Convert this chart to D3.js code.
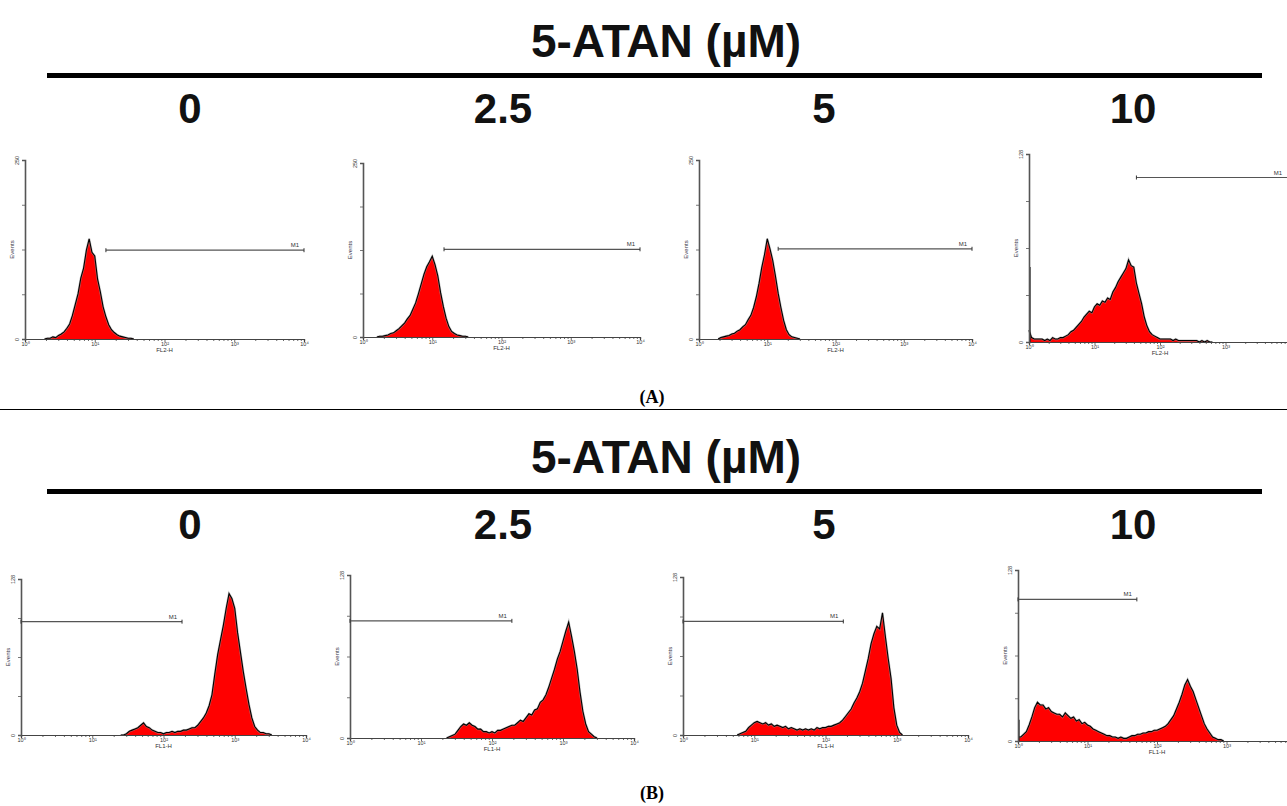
<!DOCTYPE html>
<html>
<head>
<meta charset="utf-8">
<script src="https://cdn.jsdelivr.net/npm/d3@7"></script>
<style>
body{margin:0;background:#fff;}
svg{display:block;}
</style>
</head>
<body>
<svg id="chart" width="1287" height="806"></svg>
<script>
// ---- values ----
var titleText = "5-ATAN (µM)";
var doses = ["0", "2.5", "5", "10"];
var captions = ["(A)", "(B)"];
var channelNames = ["FL2-H", "FL1-H"];
var decadeLabels = ["10⁰", "10¹", "10²", "10³", "10⁴"];
var binStep = 0.04; // decades per bin

// (A) FL2-H
var yMaxA = [250, 250, 250, 128];
var startA = [0.28, 0.20, 0.28, 0.00];
var firstChannelA = [0, 0, 0, 51];
var gateA = [[1.16, 4, 124], [1.17, 4, 126], [1.16, 4, 126], [1.64, 4, 112]];
var countsA0 = [0,1,1,3,2,5,7,10,15,21,33,48,63,85,99,124,140,121,116,84,66,45,31,20,13,9,6,4,3,2,1,1,0];
var countsA1 = [0,1,1,2,3,5,6,9,12,16,20,26,31,40,49,62,76,90,101,108,116,104,88,64,44,27,15,8,5,3,2,1,1,0];
var countsA2 = [0,2,3,4,5,7,8,11,13,17,20,27,33,44,59,78,100,118,140,126,110,88,64,44,26,13,6,3,2,1,0];
var countsA3 = [8,3,2,2,2,2,1,2,1,3,2,2,3,3,4,5,7,8,10,12,14,17,19,21,20,24,26,25,28,27,30,29,34,37,41,44,47,50,56,52,51,40,33,26,17,11,7,5,4,3,2,2,2,2,2,1,2,1,1,1,1,1,1,1,1,0,1,0,1,0,0];

// (B) FL1-H
var yMaxB = [128, 128, 128, 128];
var startB = [1.40, 1.36, 0.76, 0.00];
var firstChannelB = [0, 0, 0, 16];
var gateB = [[0, 2.26, 93], [0, 2.28, 92], [0, 2.25, 92], [0, 1.71, 106]];
var countsB0 = [0,0,1,3,4,5,6,8,10,7,6,4,3,2,2,1,2,2,3,2,3,3,4,4,5,6,6,8,11,14,18,24,33,50,66,78,90,104,116,112,104,84,68,52,38,25,14,7,4,2,2,1,1,0];
var countsB1 = [0,1,2,3,6,9,11,10,12,10,9,7,7,5,5,4,5,4,6,6,7,8,9,10,10,12,14,13,16,19,18,22,23,28,30,34,40,47,54,62,68,76,84,91,80,68,54,36,21,11,5,3,1,0];
var countsB2 = [0,1,2,3,6,8,10,11,10,9,10,8,9,7,8,7,6,7,5,6,5,4,5,4,5,4,5,4,6,5,6,6,7,7,8,9,10,12,15,18,21,26,30,35,42,52,62,74,82,88,86,99,80,62,46,22,8,2,0];
var countsB3 = [3,3,5,7,12,18,25,29,27,27,24,25,22,21,20,20,18,21,19,17,18,15,16,13,14,12,11,9,8,7,6,5,4,4,3,3,2,3,2,2,3,4,4,5,5,6,6,7,7,8,8,9,10,11,13,16,19,24,29,35,42,46,41,37,31,25,19,13,9,6,3,2,1,1,0];

// ---- page layout (pixels) ----
var W = 1287;
var frameA = [[25, 304, 160, 339], [363, 640, 163, 337], [699, 972, 160, 339], [1029, 1291, 154, 342]];
var frameB = [[21, 306, 579, 735], [350, 634, 575, 738], [683, 968, 577, 735], [1018, 1296, 570, 741]];
var doseX = [190, 503, 824, 1133];
var sectionDy = [0, 416];

var svg = d3.select("#chart");

var histPanel = function(frame, counts, start, yMax, firstCh, gate, xName){
    this.x0 = frame[0];
    this.x1 = frame[1];
    this.yTop = frame[2];
    this.yBase = frame[3];
    this.counts = counts;
    this.start = start;
    this.yMax = yMax;
    this.firstCh = firstCh;
    this.gate = gate;
    this.xName = xName;
}
histPanel.prototype.display = function(){
    var that = this;
    var x = d3.scaleLog().domain([1, 10000]).range([this.x0, this.x1]);
    var y = d3.scaleLinear().domain([0, this.yMax]).range([this.yBase, this.yTop]);
    var g = svg.append("g");

    var pts = this.counts.map(function(c, i){
        return {v: Math.pow(10, that.start + i*binStep), c: c};
    });
    var lineGen = d3.line().x(function(d){return x(d.v)}).y(function(d){return y(d.c)});

    // histogram: red fill, grey halo, black edge
    g.append("path").datum(pts)
        .attr("d", d3.area().x(function(d){return x(d.v)}).y0(this.yBase).y1(function(d){return y(d.c)}))
        .attr("fill", "#ff0000").attr("stroke", "none");
    g.append("path").datum(pts).attr("d", lineGen)
        .attr("fill", "none").attr("stroke", "#999").attr("stroke-width", 2.2).attr("stroke-opacity", 0.6);
    g.append("path").datum(pts).attr("d", lineGen)
        .attr("fill", "none").attr("stroke", "#000").attr("stroke-width", 1.1);
    if (this.firstCh > 0){
        g.append("line").attr("x1", x(1)+1).attr("x2", x(1)+1)
            .attr("y1", this.yBase).attr("y2", y(this.firstCh))
            .attr("stroke", "#111").attr("stroke-width", 1.2);
    }

    // x axis with log minor ticks
    var minor = [];
    for (var p=0; p<4; p++){
        for (var k=2; k<10; k++) minor.push(k*Math.pow(10, p));
    }
    var xMinor = g.append("g").attr("transform", "translate(0,"+this.yBase+")")
        .call(d3.axisBottom(x).tickValues(minor).tickSize(2).tickFormat(""));
    var xAxis = g.append("g").attr("transform", "translate(0,"+this.yBase+")")
        .call(d3.axisBottom(x).tickValues([1,10,100,1000,10000]).tickSize(3)
            .tickFormat(function(d, i){return x(d) < W-4 ? decadeLabels[i] : ""}));
    [xMinor, xAxis].forEach(function(a){
        a.select(".domain").attr("stroke", "#444").attr("stroke-width", 1.2);
        a.selectAll(".tick line").attr("stroke", "#444").attr("stroke-width", 0.8);
    });
    xAxis.selectAll(".tick text").attr("font-size", "5.5px").attr("font-family", "Liberation Sans, Arial")
        .attr("fill", "#333").attr("dy", "0.2em");
    g.append("text").text(this.xName).attr("x", x(100)).attr("y", this.yBase+13)
        .attr("text-anchor", "middle").attr("font-size", "6px")
        .attr("font-family", "Liberation Sans, Arial").attr("fill", "#333");

    // y axis
    var yAxis = g.append("g").attr("transform", "translate("+this.x0+",0)")
        .call(d3.axisLeft(y).tickValues([0, this.yMax/4, this.yMax/2, this.yMax*3/4, this.yMax])
            .tickSize(3).tickFormat(function(d){return (d == 0 || d == that.yMax) ? d : ""}));
    yAxis.select(".domain").attr("stroke", "#555").attr("stroke-width", 1.6);
    yAxis.selectAll(".tick line").attr("stroke", "#555").attr("stroke-width", 0.8);
    yAxis.selectAll(".tick text").attr("font-size", "5.5px").attr("font-family", "Liberation Sans, Arial")
        .attr("fill", "#333").attr("text-anchor", "middle")
        .attr("x", 0).attr("dy", 0).attr("y", -6)
        .each(function(){
            var t = d3.select(this);
            var ty = y(t.datum());
            t.attr("transform", "translate(0,"+(-ty)+") rotate(-90) translate("+(-ty)+",0)");
        });
    g.append("text").text("Events")
        .attr("transform", "translate("+(this.x0-11)+","+((this.yTop+this.yBase)/2)+") rotate(-90)")
        .attr("text-anchor", "middle").attr("font-size", "6px")
        .attr("font-family", "Liberation Sans, Arial").attr("fill", "#334");

    // M1 marker
    var gx0 = x(Math.pow(10, this.gate[0]));
    var gx1 = x(Math.pow(10, this.gate[1]));
    var gy = y(this.gate[2]);
    g.append("line").attr("x1", gx0).attr("x2", gx1).attr("y1", gy).attr("y2", gy)
        .attr("stroke", "#555").attr("stroke-width", 1.2);
    [gx0, gx1].forEach(function(px){
        g.append("line").attr("x1", px).attr("x2", px).attr("y1", gy-2).attr("y2", gy+2)
            .attr("stroke", "#333").attr("stroke-width", 1);
    });
    g.append("text").text("M1").attr("x", Math.min(gx1, W)-5).attr("y", gy-3)
        .attr("text-anchor", "end").attr("font-size", "6px")
        .attr("font-family", "Liberation Sans, Arial").attr("fill", "#333");
}

// headers
for (var s=0; s<2; s++){
    var dy = sectionDy[s];
    svg.append("text").text(titleText).attr("x", 666).attr("y", 57+dy)
        .attr("text-anchor", "middle").attr("font-family", "Liberation Sans, Arial")
        .attr("font-weight", "bold").attr("font-size", "46px").attr("fill", "#111");
    svg.append("rect").attr("x", 47).attr("y", 73+dy).attr("width", 1215).attr("height", 5).attr("fill", "#000");
    for (var i=0; i<doses.length; i++){
        svg.append("text").text(doses[i]).attr("x", doseX[i]).attr("y", 123+dy)
            .attr("text-anchor", "middle").attr("font-family", "Liberation Sans, Arial")
            .attr("font-weight", "bold").attr("font-size", "42px").attr("fill", "#111");
    }
}
svg.append("line").attr("x1", 0).attr("x2", W).attr("y1", 409.5).attr("y2", 409.5)
    .attr("stroke", "#000").attr("stroke-width", 1);
svg.append("text").text(captions[0]).attr("x", 652).attr("y", 403)
    .attr("text-anchor", "middle").attr("font-family", "Liberation Serif, Times New Roman")
    .attr("font-weight", "bold").attr("font-size", "18px");
svg.append("text").text(captions[1]).attr("x", 652).attr("y", 799)
    .attr("text-anchor", "middle").attr("font-family", "Liberation Serif, Times New Roman")
    .attr("font-weight", "bold").attr("font-size", "18px");

var countsA = [countsA0, countsA1, countsA2, countsA3];
var countsB = [countsB0, countsB1, countsB2, countsB3];
for (var i=0; i<4; i++){
    new histPanel(frameA[i], countsA[i], startA[i], yMaxA[i], firstChannelA[i], gateA[i], channelNames[0]).display();
    new histPanel(frameB[i], countsB[i], startB[i], yMaxB[i], firstChannelB[i], gateB[i], channelNames[1]).display();
}
</script>
</body>
</html>
